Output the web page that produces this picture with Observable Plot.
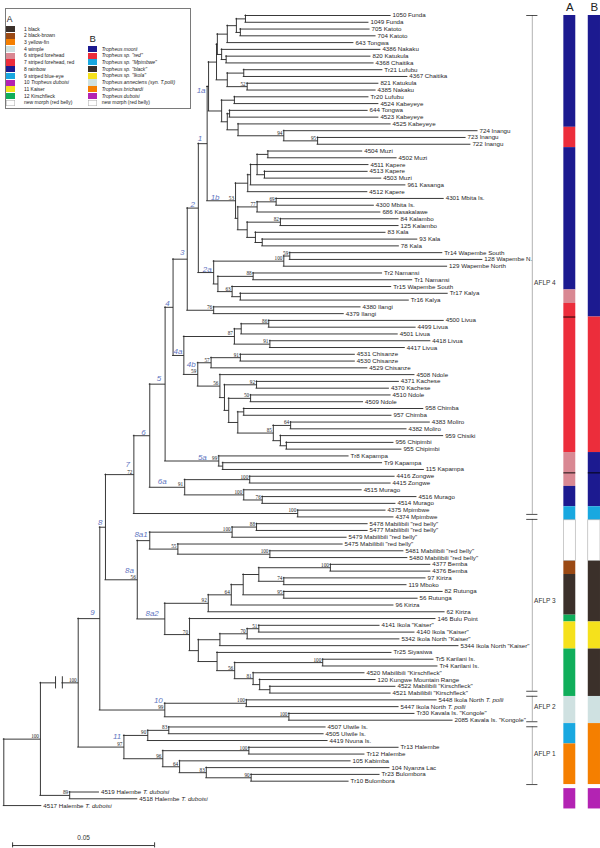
<!DOCTYPE html>
<html><head><meta charset="utf-8">
<script src="https://cdn.jsdelivr.net/npm/d3@7"></script>
<script src="https://cdn.jsdelivr.net/npm/@observablehq/plot@0.6"></script>
<style>
body{margin:0;background:#fff;}
#wrap{position:relative;width:600px;height:848px;overflow:hidden;}
#chart{position:absolute;left:0;top:0;}
#legend{position:absolute;left:5px;top:8px;width:186px;height:101px;border:1px solid #7a7a7a;box-sizing:border-box;background:#fff;font-family:"Liberation Sans",Arial,sans-serif;color:#222;}
#legend div{position:absolute;white-space:nowrap;}
</style></head>
<body><div id="wrap"><div id="chart"></div><div id="legend"></div></div>
<script>
// ---------------- DATA ----------------
const leafNames = [
"1050 Funda","1049 Funda","705 Katoto","704 Katoto","643 Tongwa",
"4386 Nakaku","820 Katukula","4368 Chaitika","Tr21 Lufubu","4367 Chaitika",
"821 Katukula","4385 Nakaku","Tr20 Lufubu","4524 Kabeyeye","644 Tongwa",
"4523 Kabeyeye","4525 Kabeyeye","724 Inangu","723 Inangu","722 Inangu",
"4504 Muzi","4502 Muzi","4511 Kapere","4513 Kapere","4503 Muzi",
"961 Kasanga","4512 Kapere","4301 Mbita Is.","4300 Mbita Is.","686 Kasakalawe",
"84 Kalambo","125 Kalambo","83 Kala","93 Kala","78 Kala",
"Tr14 Wapembe South","128 Wapembe N.","129 Wapembe North","Tr2 Namansi","Tr1 Namansi",
"Tr15 Wapembe South","Tr17 Kalya","Tr16 Kalya","4380 Ilangi","4379 Ilangi",
"4500 Livua","4499 Livua","4501 Livua","4418 Livua","4417 Livua",
"4531 Chisanze","4530 Chisanze","4529 Chisanze","4508 Ndole","4371 Kachese",
"4370 Kachese","4510 Ndole","4509 Ndole","958 Chimba","957 Chimba",
"4383 Moliro","4382 Moliro","959 Chisiki","956 Chipimbi","955 Chipimbi",
"Tr8 Kapampa","Tr9 Kapampa","115 Kapampa","4416 Zongwe","4415 Zongwe",
"4515 Murago","4516 Murago","4514 Murago","4375 Mpimbwe","4374 Mpimbwe",
'5478 Mabilibili "red belly"','5477 Mabilibili "red belly"','5479 Mabilibili "red belly"','5475 Mabilibili "red belly"','5481 Mabilibili "red belly"',
'5480 Mabilibili "red belly"',"4377 Bemba","4376 Bemba","97 Kiriza","119 Mboko",
"82 Rutunga","56 Rutunga","96 Kiriza","62 Kiriza","146 Bulu Point",
'4141 Ikola "Kaiser"','4140 Ikola "Kaiser"','5342 Ikola North "Kaiser"','5344 Ikola North "Kaiser"',"Tr25 Siyasiwa",
"Tr5 Karilani Is.","Tr4 Karilani Is.",'4520 Mabilibili "Kirschfleck"',"120 Kungwe Mountain Range",'4522 Mabilibili "Kirschfleck"',
'4521 Mabilibili "Kirschfleck"',"5448 Ikola North T. polli","5447 Ikola North T. polli",'Tr30 Kavala Is. "Kongole"','2085 Kavala Is. "Kongole"',
"4507 Ulwile Is.","4505 Ulwile Is.","4419 Nvuna Is.","Tr13 Halembe","Tr12 Halembe",
"105 Kabimba","104 Nyanza Lac","Tr23 Bulombora","Tr10 Bulombora","4519 Halembe T. duboisi",
"4518 Halembe T. duboisi","4517 Halembe T. duboisi"];

// cumulative distance from the root to each tip
const tipDepth = [
0.1362,0.1284,0.1288,0.1309,0.1231, 0.1326,0.1291,0.1302,0.1333,0.1421,
0.1319,0.1309,0.1284,0.1319,0.1281, 0.1319,0.1362,0.1668,0.1626,0.1643,
0.1262,0.1383,0.1284,0.1281,0.1329, 0.1414,0.1280,0.1549,0.1303,0.1326,
0.1390,0.1390,0.1344,0.1456,0.1391, 0.1544,0.1685,0.1561,0.1332,0.1438,
0.1364,0.1563,0.1426,0.1256,0.1197, 0.1549,0.1450,0.1387,0.1502,0.1412,
0.1236,0.1236,0.1280,0.1446,0.1391, 0.1356,0.1362,0.1265,0.1477,0.1365,
0.1500,0.1418,0.1547,0.1372,0.1400, 0.1214,0.1332,0.1479,0.1376,0.1362,
0.1260,0.1453,0.1379,0.1344,0.1372, 0.1281,0.1281,0.1207,0.1193,0.1407,
0.1421,0.1502,0.1502,0.1485,0.1418, 0.1545,0.1457,0.1372,0.1552,0.1520,
0.1323,0.1446,0.1393,0.1601,0.1365, 0.1513,0.1527,0.1270,0.1309,0.1379,
0.1362,0.1524,0.1390,0.1446,0.1580, 0.1133,0.1126,0.1140,0.1390,0.1270,
0.1221,0.1358,0.1323,0.1214,0.0335, 0.0470,0.0132];

// colour morph (column A) per tip
const morphA = [
"8","8","8","8","8","8","8","8","8","8","8","8","8","8","8","8","8",
"7","7","7",
"8","8","8","8","8","8","8","8","8","8","8","8","8","8","8","8","8","8","8","8","8",
"6","6",
"7","7","7","7","7","7","7","7","7","7","7","7","7","7","7","7","7","7","7","7","7","7",
"6","6","6","6","6",
"8","8","8",
"9","9",
"N","N","N","N","N","N",
"2","2",
"1","1","1","1","1","1",
"12",
"11","11","11","11",
"12","12","12","12","12","12","12",
"4","4","4","4",
"9","9","9",
"3","3","3","3","3","3",
"10","10","10"];

// species (column B) per tip
const speciesB = [
"moorii","moorii","moorii","moorii","moorii","moorii","moorii","moorii","moorii","moorii",
"moorii","moorii","moorii","moorii","moorii","moorii","moorii","moorii","moorii","moorii",
"moorii","moorii","moorii","moorii","moorii","moorii","moorii","moorii","moorii","moorii",
"moorii","moorii","moorii","moorii","moorii","moorii","moorii","moorii","moorii","moorii",
"moorii","moorii","moorii","moorii","moorii",
"red","red","red","red","red","red","red","red","red","red",
"red","red","red","red","red","red","red","red","red","red",
"moorii","moorii","moorii","moorii","moorii","moorii","moorii","moorii",
"Mpimbwe","Mpimbwe",
"new","new","new","new","new","new",
"black","black","black","black","black","black","black","black","black",
"Ikola","Ikola","Ikola","Ikola",
"black","black","black","black","black","black","black",
"annectens","annectens","annectens","annectens",
"brichardi","brichardi","brichardi","brichardi","brichardi","brichardi","brichardi","brichardi","brichardi",
"duboisi","duboisi","duboisi"];

// black dividing lines inside the colour columns (between tip rows)
const sepA = [44.5, 67.5];
const sepB = [67.5];

// legend A
const morphCodes  = ["1","2","3","4","6","7","8","9","10","11","12","N"];
const morphLabels = ["1 black","2 black-brown","3 yellow-fin","4 wimple","6 striped forehead","7 striped forehead, red","8 rainbow","9 striped blue-eye","10 |Tropheus duboisi","11 Kaiser","12 Kirschfleck","new morph (red belly)"];
const morphColors = ["#3b302a","#9a4914","#f57f00","#cfe1e1","#d98893","#ec2d3b","#1c1a90","#19a8e0","#b323b3","#f5e11c","#10ae5b","#ffffff"];
// legend B
const speciesCodes  = ["moorii","red","Mpimbwe","black","Ikola","annectens","brichardi","duboisi","new"];
const speciesLabels = ["Tropheus moorii",'Tropheus sp. "red"','Tropheus sp. "Mpimbwe"','Tropheus sp. "black"','Tropheus sp. "Ikola"',"Tropheus annectens (syn. T.polli)","Tropheus brichardi","Tropheus duboisi","new morph (red belly)"];
const speciesColors = ["#1c1a90","#ec2d3b","#19a8e0","#3b302a","#f5e11c","#cfe1e1","#f57f00","#b323b3","#ffffff"];

// AFLP groups (extent in tip rows)
const aflpNames    = ["AFLP 4","AFLP 3","AFLP 2","AFLP 1"];
const aflpFrom     = [0, 74, 100.1, 104.6];
const aflpTo       = [74, 100.1, 104.6, 113.5];
const aflpLabelRow = [39.5, 86.4, 102.1, 109];

const scaleBarLength = 0.05;

// Tree topology: tips are row indices, ")bootstrap#clade:depth" (depth = distance from root)
const cA    = "(((0,1):0.0851,(2,3):0.0833):0.0819,4):0.0787";
const cBup  = "(5,(6,7):0.0783):0.0767";
const cBlow = "((8,9):0.0845,(10,11)52:0.0857):0.0787";
const cP    = `((${cA},${cBup}):0.0752,${cBlow}):0.0749`;
const cC    = "((12,13):0.0812,((14,15):0.0795,(16,(17,(18,19)95:0.1105)94:0.0986):0.0825):0.0787):0.0767";
const c1a   = `(${cP},${cC})#1a:0.0721`;
const cK    = "((((20,21):0.0930,22,(23,24):0.0918):0.0892,25):0.0869,26):0.0859";
const cMK   = "(((27,28)69:0.0959,29)77:0.0892,((30,31)82:0.0974,(32,(33,34):0.0910):0.0886):0.0857):0.0824";
const c1b   = `(${cK},${cMK})53#1b:0.0816`;
const c1    = `(${c1a},${c1b})#1:0.0716`;
const c2a   = "(((35,36)59:0.1007,37)100:0.0986,((38,39)88:0.0878,(40,(41,42):0.0833)63:0.0804):0.0754)#2a:0.0739";
const c2    = `(${c1},${c2a})#2:0.0685`;
const c3    = `(${c2},(43,44)76:0.0739)#3:0.0646`;
const cL    = "(((45,46)86:0.0933,47):0.0836,(48,49)91:0.0937)87:0.0812";
const c4b   = "(((50,51)91:0.0833,52)57:0.0730,(53,((54,55)92:0.0890,((56,57)50:0.0869,((58,59):0.0845,((60,61)64:0.1010,(62,(63,64):0.0995):0.0974)85:0.0949):0.0824):0.0792):0.0777)56:0.0761)59#4b:0.0683";
const c4a   = `(${cL},${c4b})#4a:0.0634`;
const c4    = `(${c3},${c4a})#4:0.0596`;
const c5a   = "(65,(66,67):0.0771)99#5a:0.0757";
const c5    = `(${c4},${c5a})#5:0.0568`;
const c6a   = "((68,69)100:0.0866,(70,(71,72)76:0.0910)100:0.0845)91#6a:0.0637";
const c6    = `(${c5},${c6a})#6:0.0514`;
const c7    = `(${c6},(73,74)100:0.1035)72#7:0.0458`;
const c8a1  = "(((75,76)88:0.0890,77)100:0.0804,(78,(79,80)100:0.0937)55:0.0613)#8a1:0.0514";
const cN64  = "((((81,82)100:0.1150,(83,84)74:0.0986):0.0898,(85,86)95:0.0986):0.0843,87)64:0.0801";
const cN92  = `(${cN64},88)92:0.0720`;
const cKais = "(((90,91)51:0.0898,92)70:0.0857,93):0.0761";
const cKir  = "((95,96)100:0.1123,(97,(98,(99,100):0.0937):0.0901)81:0.0878)56:0.0813";
const cN70  = `(89,(${cKais},(94,${cKir}):0.0751):0.0685)70:0.0654`;
const c8a2  = `(${cN92},${cN70})#8a2:0.0567`;
const c8a   = `(${c8a1},${c8a2})56#8a:0.0470`;
const c8    = `(${c7},${c8a})#8:0.0358`;
const c10   = "((101,102)100:0.0854,(103,104)100:0.1004)99#10:0.0567";
const c9    = `(${c8},${c10})#9:0.0338`;
const c11   = "(((105,106)83:0.0581,107)90:0.0507,((108,109)100:0.0863,(110,(111,(112,113)90:0.0871)83:0.0713)64:0.0619)96:0.0560)97#11:0.0423";
const newick = `(((${c9},${c11})100~:0.0262,(114,115)89:0.0232)100:0.0129,116):0`;

// ---------------- LAYOUT ----------------
const FONT = '"Liberation Sans", Arial, sans-serif';
const GAP_AFTER = 113, GAP = 0.6;              // small gap before the T. duboisi tips
const rowOf = i => i > GAP_AFTER ? i + GAP : i;
const COL_BRACKET = 0.1861, TICK = 0.00197;
const COL_A = [0.1972, 0.2014], COL_B = [0.2058, 0.2101];
const SB0 = 0.0031;

function parseTree(str) {
  const s = str.replace(/\s+/g, "");
  let i = 0;
  const read = stops => { let t = ""; while (i < s.length && !stops.includes(s[i])) t += s[i++]; return t; };
  function node() {
    const n = {children: []};
    if (s[i] === "(") {
      i++;
      n.children.push(node());
      while (s[i] === ",") { i++; n.children.push(node()); }
      i++;
      const lab = read(":,)");
      const m = lab.match(/^(\d*)(~?)(?:#(.+))?$/) || [];
      n.bs = m[1] || null; n.broken = m[2] === "~"; n.clade = m[3] || null;
    } else {
      n.leaf = +read(":,)");
    }
    if (s[i] === ":") { i++; n.depth = +read(",)"); }
    return n;
  }
  return node();
}
const root = parseTree(newick);
const nodes = [];
(function walk(n, p) { n.parent = p; nodes.push(n); n.children.forEach(c => walk(c, n)); })(root, null);
(function setY(n) {
  if (n.leaf !== undefined) { n.y = rowOf(n.leaf); n.depth = tipDepth[n.leaf]; n.name = leafNames[n.leaf]; return; }
  n.children.forEach(setY);
  n.y = (n.children[0].y + n.children[n.children.length - 1].y) / 2;
})(root);

const hSegs = [], breaks = [];
nodes.filter(n => n.parent).forEach(n => {
  const a = n.parent.depth, b = n.depth;
  if (n.broken) {
    const L = b - a;
    hSegs.push({x1: a, x2: a + 0.40 * L, y: n.y}, {x1: a + 0.58 * L, x2: b, y: n.y});
    breaks.push({x: a + 0.40 * L, y: n.y}, {x: a + 0.58 * L, y: n.y});
  } else hSegs.push({x1: a, x2: b, y: n.y});
});
const internal = nodes.filter(n => n.children.length);
const vSegs = internal.map(n => ({x: n.depth, y1: n.children[0].y, y2: n.children[n.children.length - 1].y}));
const leaves = nodes.filter(n => n.leaf !== undefined);
const bsNodes = internal.filter(n => n.bs);
const cladeNodes = internal.filter(n => n.clade);

function runs(codes, codeList, colors) {
  const out = [];
  codes.forEach((c, i) => {
    const last = out[out.length - 1];
    if (last && last.code === c) last.end = i; else out.push({code: c, start: i, end: i});
  });
  return out.map(r => ({...r, y1: Math.max(0, rowOf(r.start) - 0.5), y2: rowOf(r.end) + 0.5, color: colors[codeList.indexOf(r.code)]}));
}
const runsA = runs(morphA, morphCodes, morphColors).map(d => ({...d, col: COL_A}));
const runsB = runs(speciesB, speciesCodes, speciesColors).map(d => ({...d, col: COL_B}));
const allRuns = runsA.concat(runsB);
const seps = sepA.map(y => ({y, col: COL_A})).concat(sepB.map(y => ({y, col: COL_B})));

const aflp = aflpNames.map((name, k) => ({
  name, labelRow: aflpLabelRow[k],
  top: aflpFrom[k] + (k > 0 ? 0.37 : 0),
  bottom: aflpTo[k] - (k < aflpNames.length - 1 ? 0.37 : 0)
}));
const aflpTicks = aflp.flatMap(g => [g.top, g.bottom]);

const nudge = {
  "1": [-5, -5.3], "1a": [-3, 4], "1b": [-16, -3.5], "2": [-3.4, -4], "2a": [-2, -3.4],
  "3": [-2.7, -6.4], "4": [-3.4, -4.3], "4a": [-1.5, -4], "4b": [-2, -9.8], "5": [-4, -5.8],
  "5a": [-12, -4], "6": [-4, -3.7], "6a": [-18, -6], "7": [-4, -10.5], "8": [-3, -4.5],
  "8a": [-3.4, -9.8], "8a1": [-2, -6], "8a2": [-6, -5.4], "9": [-5, -6], "10": [-2, -9.8], "11": [-2.6, -10.8]
};

const branchStyle = {stroke: "#222", strokeWidth: 0.9, strokeLinecap: "square"};

const chart = Plot.plot({
  width: 600, height: 848, margin: 0,
  x: {domain: [0, 0.21], range: [3.3, 599.7], axis: null},
  y: {domain: [0, 116], range: [15, 801], axis: null},
  color: {type: "identity"},
  style: {fontFamily: FONT, background: "#fff", overflow: "visible"},
  marks: [
    // colour columns
    Plot.rect(allRuns, {x1: d => d.col[0], x2: d => d.col[1], y1: "y1", y2: "y2", fill: "color"}),
    Plot.rect(allRuns.filter(d => d.code === "N" || d.code === "new"), {x1: d => d.col[0], x2: d => d.col[1], y1: "y1", y2: "y2", fill: "none", stroke: "#a8a8a8", strokeWidth: 0.6}),
    Plot.ruleY(seps, {y: "y", x1: d => d.col[0], x2: d => d.col[1], stroke: "#000", strokeWidth: 0.9}),
    Plot.text(["A", "B"], {x: d => d === "A" ? (COL_A[0] + COL_A[1]) / 2 : (COL_B[0] + COL_B[1]) / 2, y: () => 0, dy: -8.2, text: d => d, fontSize: 11.5, fill: "#222"}),
    // AFLP brackets
    Plot.ruleX(aflp, {x: () => COL_BRACKET, y1: "top", y2: "bottom", stroke: "#a0a0a0", strokeWidth: 0.8}),
    Plot.ruleY(aflpTicks, {y: d => d, x1: () => COL_BRACKET - TICK, x2: () => COL_BRACKET + TICK, stroke: "#222", strokeWidth: 0.8}),
    Plot.text(aflp, {x: () => COL_BRACKET, y: "labelRow", text: "name", textAnchor: "start", dx: 1.8, fontSize: 6.5, fill: "#333"}),
    // tree
    Plot.ruleY(hSegs, {y: "y", x1: "x1", x2: "x2", ...branchStyle}),
    Plot.ruleX(vSegs, {x: "x", y1: "y1", y2: "y2", ...branchStyle}),
    Plot.ruleX(breaks, {x: "x", y1: d => d.y - 0.9, y2: d => d.y + 0.9, stroke: "#222", strokeWidth: 0.9}),
    Plot.text(leaves, {x: "depth", y: "y", text: "name", textAnchor: "start", dx: 2, fontSize: 6.2, fill: "#1e1e1e"}),
    Plot.text(bsNodes, {x: "depth", y: "y", text: "bs", textAnchor: "end", dx: -1.5, dy: -2.7, fontSize: 5.2, fontFamily: '"Liberation Serif", serif', fill: "#222"}),
    ...cladeNodes.map(n => {
      const [dx, dy] = nudge[n.clade] || [-3.5, n.bs ? -9.8 : -5];
      return Plot.text([n], {x: "depth", y: "y", text: "clade", textAnchor: "end", dx, dy, fontSize: 8, fontStyle: "italic", fill: "#6276bf"});
    }),
    // scale bar
    Plot.ruleY([scaleBarLength], {y: () => 122.5, x1: () => SB0, x2: d => SB0 + d, stroke: "#222", strokeWidth: 0.9}),
    Plot.ruleX([0, scaleBarLength], {x: d => SB0 + d, y1: () => 122.1, y2: () => 122.85, stroke: "#222", strokeWidth: 0.9}),
    Plot.text([scaleBarLength], {x: d => SB0 + d / 2, y: () => 121.35, text: d => String(d), fontSize: 6.5, fill: "#333"})
  ]
});

// italic species names inside tip labels
chart.querySelectorAll("text").forEach(t => {
  const m = t.textContent.match(/^(.*?)(T\. (?:duboisi|polli))$/);
  if (m && t.children.length === 0) {
    t.textContent = m[1];
    const ts = document.createElementNS("http://www.w3.org/2000/svg", "tspan");
    ts.setAttribute("font-style", "italic");
    ts.textContent = m[2];
    t.appendChild(ts);
  }
});
document.getElementById("chart").appendChild(chart);

// ---------------- LEGEND ----------------
const lg = document.getElementById("legend");
function add(css, html) { const d = document.createElement("div"); d.style.cssText = css; d.innerHTML = html; lg.appendChild(d); return d; }
add("left:0.8px;top:6.2px;font-size:8.5px;line-height:8.5px;", "A");
morphLabels.forEach((lab, k) => {
  const top = 16.65 + 6.7 * k;
  const col = morphColors[k];
  add(`left:0;top:${top + 0.25}px;width:8.5px;height:6.2px;background:${col};${col === "#ffffff" ? "box-shadow:inset 0 0 0 0.5px #aaa;" : ""}`, "");
  const parts = lab.split("|");
  const html = parts.length > 1 ? `${parts[0]}<i>${parts[1]}</i>` : lab;
  add(`left:18px;top:${top}px;font-size:5px;line-height:6.7px;`, html.replace(/"/g, "&quot;"));
});
add("left:83.5px;top:25px;font-size:9.5px;line-height:9.5px;", "B");
speciesLabels.forEach((lab, k) => {
  const top = 36.65 + 6.7 * k;
  const col = speciesColors[k];
  add(`left:82.3px;top:${top + 0.25}px;width:9px;height:6.2px;background:${col};${col === "#ffffff" ? "box-shadow:inset 0 0 0 0.5px #aaa;" : ""}`, "");
  const ital = speciesCodes[k] !== "new";
  add(`left:95.7px;top:${top}px;font-size:5px;line-height:6.7px;${ital ? "font-style:italic;" : ""}`, lab.replace(/"/g, "&quot;"));
});
</script></body></html>
